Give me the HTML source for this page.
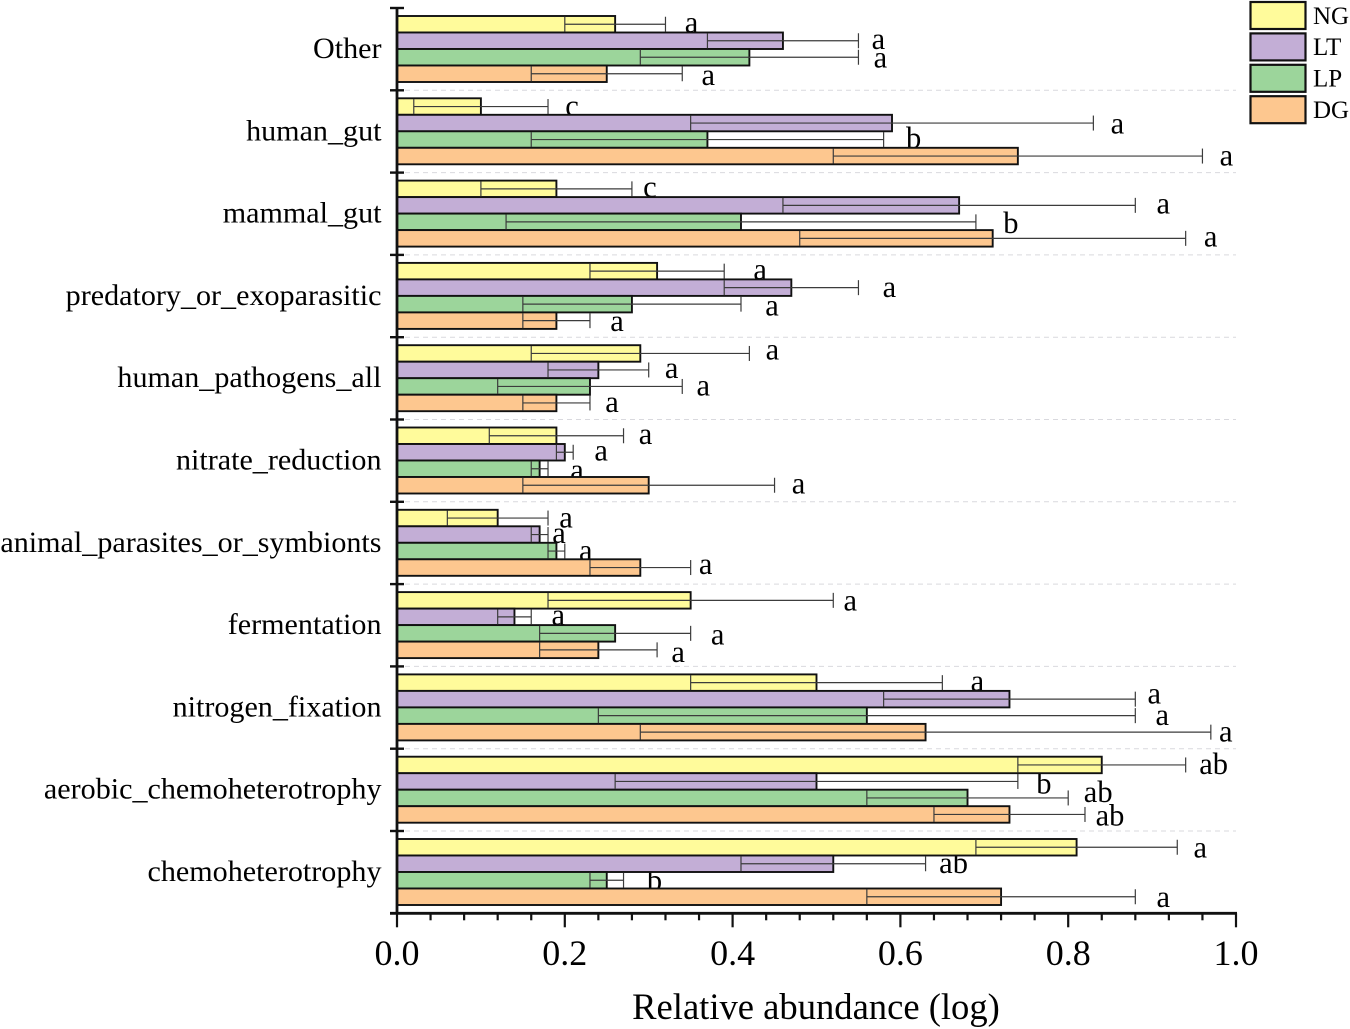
<!DOCTYPE html>
<html lang="en">
<head>
<meta charset="utf-8">
<title>Relative abundance (log)</title>
<style>
html,body{margin:0;padding:0;background:#fff;}
svg{display:block;font-family:"Liberation Serif",serif;}
</style>
</head>
<body>
<svg id="chart" xmlns="http://www.w3.org/2000/svg" width="1350" height="1029" viewBox="0 0 1350 1029"></svg>
<script>
const categories = ["Other","human_gut","mammal_gut","predatory_or_exoparasitic","human_pathogens_all","nitrate_reduction","animal_parasites_or_symbionts","fermentation","nitrogen_fixation","aerobic_chemoheterotrophy","chemoheterotrophy"];
const seriesNames = ["NG","LT","LP","DG"];
const ngMean = [0.26,0.10,0.19,0.31,0.29,0.19,0.12,0.35,0.50,0.84,0.81];
const ltMean = [0.46,0.59,0.67,0.47,0.24,0.20,0.17,0.14,0.73,0.50,0.52];
const lpMean = [0.42,0.37,0.41,0.28,0.23,0.17,0.19,0.26,0.56,0.68,0.25];
const dgMean = [0.25,0.74,0.71,0.19,0.19,0.30,0.29,0.24,0.63,0.73,0.72];
const ngError = [0.06,0.08,0.09,0.08,0.13,0.08,0.06,0.17,0.15,0.10,0.12];
const ltError = [0.09,0.24,0.21,0.08,0.06,0.01,0.01,0.02,0.15,0.24,0.11];
const lpError = [0.13,0.21,0.28,0.13,0.11,0.01,0.01,0.09,0.32,0.12,0.02];
const dgError = [0.09,0.22,0.23,0.04,0.04,0.15,0.06,0.07,0.34,0.09,0.16];
const ngLetter = ["a","c","c","a","a","a","a","a","a","ab","a"];
const ltLetter = ["a","a","a","a","a","a","a","a","a","b","ab"];
const lpLetter = ["a","b","b","a","a","a","a","a","a","ab","b"];
const dgLetter = ["a","a","a","a","a","a","a","a","a","ab","a"];
const xTickLabels = ["0.0","0.2","0.4","0.6","0.8","1.0"];
const xTitle = "Relative abundance (log)";

function draw() {
  const svg = document.getElementById('chart');
  const NS = 'http://www.w3.org/2000/svg';
  const means = [ngMean, ltMean, lpMean, dgMean];
  const errors = [ngError, ltError, lpError, dgError];
  const letters = [ngLetter, ltLetter, lpLetter, dgLetter];
  const fills = ['#FFFB9B', '#C3AED6', '#9CD59B', '#FDC78F'];
  const axisX = 397, axisRight = 1236, plotTop = 8, axisY = 913.3, groupStep = 82.3, barH = 16.5, barPad = 8;
  const xScale = v => axisX + v * (axisRight - axisX);
  const groupTop = i => plotTop + i * groupStep;
  const barTop = (i, j) => groupTop(i) + barPad + j * barH;

  // Layout nudges for significance letters, per category then series (px from whisker end / bar bottom).
  const gapNudge = [[26,20,22,26],[24,24,30,24],[18,28,35,25],[36,31,31,27],[23,23,21,22],[22,28,29,24],[18,11,21,15],[17,27,27,21],[35,19,27,15],[28,26,30,25],[23,28,31,28]];
  const dropNudge = [[0,0,2,3],[1,2,0,1],[0,0,3,0],[0,1,3,2],[-2,0,1,1],[0,0,3,0],[1,0,1,-2],[2,0,3,4],[0,-4,1,1],[1,4,-4,3],[2,1,2,2]];

  function make(tag, attrs, text) {
    const el = document.createElementNS(NS, tag);
    for (const k in attrs) el.setAttribute(k, attrs[k]);
    if (text !== undefined) el.textContent = text;
    svg.appendChild(el);
    return el;
  }

  // dashed group separators
  categories.forEach((c, i) => {
    if (i === 0) return;
    const sep = make('line', {x1: axisX + 8, x2: axisRight, y1: groupTop(i), y2: groupTop(i), stroke: '#d9d9de', 'stroke-width': 1, 'stroke-dasharray': '5 4'});
    
    
  });

  // significance letters (sit beneath the bars)
  categories.forEach((c, i) => {
    seriesNames.forEach((s, j) => {
      const tip = xScale(means[j][i] + errors[j][i]);
      const t = make('text', {x: tip + gapNudge[i][j], y: barTop(i, j) + barH + dropNudge[i][j], 'font-size': 30.5, 'text-anchor': 'middle', fill: '#000'}, letters[j][i]);
      
      
    });
  });

  // bars
  categories.forEach((c, i) => {
    seriesNames.forEach((s, j) => {
      const r = make('rect', {x: xScale(0), y: barTop(i, j), width: xScale(means[j][i]) - xScale(0), height: barH, fill: fills[j], stroke: '#111', 'stroke-width': 1.9});
      
      
    });
  });

  // error bars
  categories.forEach((c, i) => {
    seriesNames.forEach((s, j) => {
      const lo = xScale(means[j][i] - errors[j][i]);
      const hi = xScale(means[j][i] + errors[j][i]);
      const cy = barTop(i, j) + barH / 2;
      const style = {stroke: '#3c3c3c', 'stroke-width': 1.2};
      const stem = make('line', Object.assign({x1: lo, x2: hi, y1: cy, y2: cy}, style));
      
      
      const capLo = make('line', Object.assign({x1: lo, x2: lo, y1: cy - 7.5, y2: cy + 7.5}, style));
      
      
      const capHi = make('line', Object.assign({x1: hi, x2: hi, y1: cy - 7.5, y2: cy + 7.5}, style));
      
      
    });
  });

  // y axis
  const yAxis = make('line', {x1: axisX, x2: axisX, y1: plotTop, y2: axisY, stroke: '#111', 'stroke-width': 2.8});
  
  
  categories.forEach((c, i) => {
    const tick = make('line', {x1: axisX - 7, x2: axisX + 7, y1: groupTop(i), y2: groupTop(i), stroke: '#111', 'stroke-width': 2.4});
    
    
    const label = make('text', {x: 381.5, y: groupTop(i) + 50, 'font-size': 30.1, 'text-anchor': 'end', fill: '#000'}, c);
    
    
  });

  // x axis
  const xAxis = make('line', {x1: axisX - 7, x2: axisRight + 1, y1: axisY, y2: axisY, stroke: '#111', 'stroke-width': 2.8});
  
  
  for (let m = 0; m <= 25; m++) {
    const major = m % 5 === 0;
    const v = m * 0.04;
    const tick = make('line', {x1: xScale(v), x2: xScale(v), y1: axisY, y2: axisY + (major ? 14 : 7), stroke: '#111', 'stroke-width': 2.2});
    
    
  }
  xTickLabels.forEach(l => {
    const t = make('text', {x: xScale(parseFloat(l)), y: 965, 'font-size': 36, 'text-anchor': 'middle', fill: '#000'}, l);
    
    
  });
  const title = make('text', {x: 816, y: 1019, 'font-size': 36.6, 'text-anchor': 'middle', fill: '#000'}, xTitle);
  
  

  // legend
  seriesNames.forEach((s, j) => {
    const top = 2 + j * 31.4;
    const sw = make('rect', {x: 1250.5, y: top, width: 55, height: 27, fill: fills[j], stroke: '#111', 'stroke-width': 2.2});
    
    
    const lt = make('text', {x: 1313, y: top + 21.8, 'font-size': 25, fill: '#000'}, s);
    
    
  });
}
draw();
</script>
</body>
</html>
